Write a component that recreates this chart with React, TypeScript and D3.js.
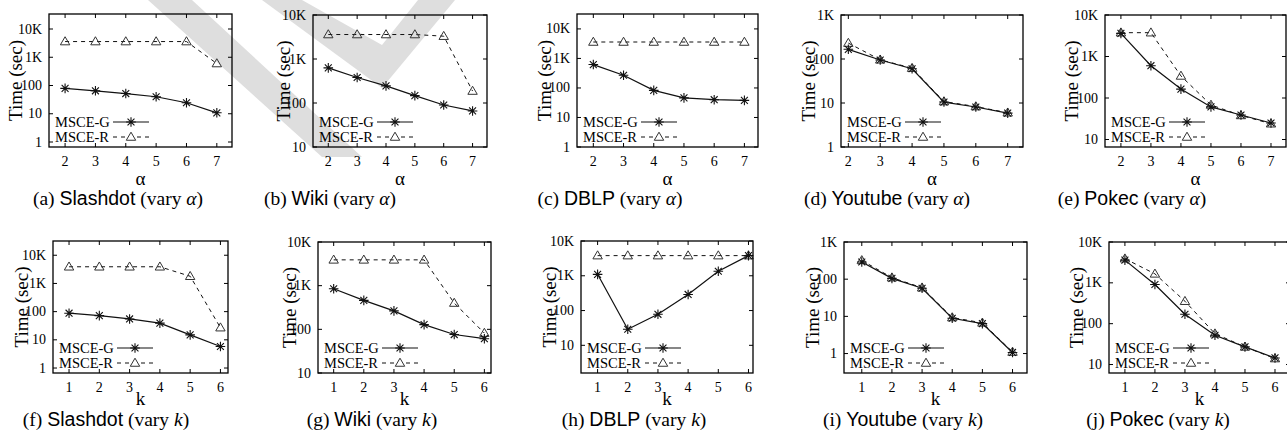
import React from "react";
import * as d3 from "d3";

// x values
const alphaValues = [2, 3, 4, 5, 6, 7];
const kValues = [1, 2, 3, 4, 5, 6];
const seriesNames = ["MSCE-G", "MSCE-R"];
const yTickValues = [1, 10, 100, 1000, 10000];
const yTickLabels = ["1", "10", "100", "1K", "10K"];

// running time (sec), vary alpha
const slashdotAlphaG = [79, 65, 52, 40, 24.5, 10.8];
const slashdotAlphaR = [3600, 3600, 3600, 3600, 3600, 600];
const wikiAlphaG = [630, 380, 245, 147, 90, 66];
const wikiAlphaR = [3600, 3600, 3600, 3600, 3300, 187];
const dblpAlphaG = [620, 270, 83, 46, 40, 38];
const dblpAlphaR = [3600, 3600, 3600, 3600, 3600, 3600];
const youtubeAlphaG = [166, 95, 60, 10.5, 8.1, 5.9];
const youtubeAlphaR = [230, 96, 62, 10.8, 8.3, 6.0];
const pokecAlphaG = [3600, 600, 164, 61, 39, 25];
const pokecAlphaR = [3750, 3750, 340, 68, 38, 24];

// running time (sec), vary k
const slashdotKG = [88, 72, 55, 39, 15, 5.8];
const slashdotKR = [3900, 3900, 3900, 3900, 1800, 27];
const wikiKG = [850, 460, 265, 128, 76, 61];
const wikiKR = [3900, 3900, 3900, 3900, 400, 82];
const dblpKG = [1100, 29, 78, 290, 1350, 3800];
const dblpKR = [3800, 3800, 3800, 3800, 3800, 3800];
const youtubeKG = [290, 105, 57, 8.9, 6.4, 1.07];
const youtubeKR = [320, 110, 59, 9.3, 6.7, 1.1];
const pokecKG = [3600, 910, 170, 52, 27, 14.5];
const pokecKR = [3900, 1660, 355, 57, 27, 14];

const SERIF = "'Liberation Serif', 'DejaVu Serif', serif";
const SANS = "'Liberation Sans', Arial, sans-serif";

// layout of every sub-plot: frame [left, top, right, bottom], axis domains, caption centre
const panels = [
  { id: "a", name: "Slashdot", vary: "α", xs: alphaValues, g: slashdotAlphaG, r: slashdotAlphaR, frame: [49, 14, 232, 147], xDom: [1.47, 7.5], yDom: [0.666, 34000], capX: 118, labDx: 34 },
  { id: "b", name: "Wiki", vary: "α", xs: alphaValues, g: wikiAlphaG, r: wikiAlphaR, frame: [313, 15, 487, 147], xDom: [1.47, 7.5], yDom: [10, 10000], capX: 330, labDx: 30 },
  { id: "c", name: "DBLP", vary: "α", xs: alphaValues, g: dblpAlphaG, r: dblpAlphaR, frame: [577, 14, 758, 147], xDom: [1.46, 7.45], yDom: [1, 32000], capX: 610, labDx: 33 },
  { id: "d", name: "Youtube", vary: "α", xs: alphaValues, g: youtubeAlphaG, r: youtubeAlphaR, frame: [841, 15, 1023, 147], xDom: [1.77, 7.48], yDom: [1, 1000], capX: 887, labDx: 33 },
  { id: "e", name: "Pokec", vary: "α", xs: alphaValues, g: pokecAlphaG, r: pokecAlphaR, frame: [1105, 15, 1286, 147], xDom: [1.47, 7.5], yDom: [6.6, 10000], capX: 1132, labDx: 34 },
  { id: "f", name: "Slashdot", vary: "k", xs: kValues, g: slashdotKG, r: slashdotKR, frame: [53, 241, 228, 373], xDom: [0.47, 6.25], yDom: [0.666, 32000], capX: 106, labDx: 32 },
  { id: "g", name: "Wiki", vary: "k", xs: kValues, g: wikiKG, r: wikiKR, frame: [318, 242, 491, 373], xDom: [0.48, 6.22], yDom: [10, 10000], capX: 372, labDx: 29 },
  { id: "h", name: "DBLP", vary: "k", xs: kValues, g: dblpKG, r: dblpKR, frame: [581, 241, 753, 373], xDom: [0.45, 6.15], yDom: [1.6, 10000], capX: 634, labDx: 32 },
  { id: "i", name: "Youtube", vary: "k", xs: kValues, g: youtubeKG, r: youtubeKR, frame: [844, 242, 1027, 373], xDom: [0.41, 6.48], yDom: [0.3, 1000], capX: 903, labDx: 32 },
  { id: "j", name: "Pokec", vary: "k", xs: kValues, g: pokecKG, r: pokecKR, frame: [1109, 242, 1290, 373], xDom: [0.47, 6.5], yDom: [6.2, 10000], capX: 1158, labDx: 33 },
];

// light grey watermark stripes in the background of the scan
const watermark = [
  [[148, 0], [192, 0], [362, 157], [322, 157]],
  [[262, 0], [302, 0], [382, 45], [418, 0], [455, 0], [382, 88]],
];

function starPath(cx: number, cy: number, r: number) {
  const d = r * 0.72;
  return `M${cx - r},${cy}h${2 * r}M${cx},${cy - r}v${2 * r}M${cx - d},${cy - d}l${2 * d},${2 * d}M${cx - d},${cy + d}l${2 * d},${-2 * d}`;
}

function triPath(cx: number, cy: number, r: number) {
  return `M${cx},${cy - r}L${cx + r * 0.98},${cy + r * 0.68}L${cx - r * 0.98},${cy + r * 0.68}Z`;
}

function Panel({ p }: { p: any }) {
  const [L, T, R, B] = p.frame;
  const top = p.vary === "α";
  const x = d3.scaleLinear().domain(p.xDom).range([L, R]);
  const y = d3.scaleLog().domain(p.yDom).range([B, T]);
  const line = d3.line<number>().x((_, i) => x(p.xs[i])).y((d) => y(d));
  const ticks = yTickValues
    .map((v, i) => ({ v, label: yTickLabels[i] }))
    .filter((t) => t.v >= p.yDom[0] * 0.999 && t.v <= p.yDom[1] * 1.001);
  const capY = top ? 205 : 426;
  const cy = (T + B) / 2;
  return (
    <g>
      {/* series */}
      <path d={line(p.r) || ""} fill="none" stroke="#111" strokeWidth={1} strokeDasharray="4,4" />
      <path d={line(p.g) || ""} fill="none" stroke="#111" strokeWidth={1.2} />
      {p.r.map((v: number, i: number) => (
        <path key={"r" + i} d={triPath(x(p.xs[i]), y(v), 4.8)} fill="none" stroke="#333" strokeWidth={1} />
      ))}
      {p.g.map((v: number, i: number) => (
        <path key={"g" + i} d={starPath(x(p.xs[i]), y(v), 4.8)} stroke="#111" strokeWidth={1.1} />
      ))}
      {/* frame and ticks */}
      <rect x={L} y={T} width={R - L} height={B - T} fill="none" stroke="#000" strokeWidth={1.3} />
      {ticks.map((t) => (
        <g key={t.v}>
          <line x1={L} x2={L + 4} y1={y(t.v)} y2={y(t.v)} stroke="#000" />
          <line x1={R} x2={R - 4} y1={y(t.v)} y2={y(t.v)} stroke="#000" />
          <text x={L - 7} y={y(t.v)} textAnchor="end" dominantBaseline="central" fontFamily={SERIF} fontSize={14}>
            {t.label}
          </text>
        </g>
      ))}
      {p.xs.map((v: number) => (
        <g key={"x" + v}>
          <line x1={x(v)} x2={x(v)} y1={B} y2={B - 4} stroke="#000" />
          <line x1={x(v)} x2={x(v)} y1={T} y2={T + 4} stroke="#000" />
          <text x={x(v)} y={B + 19} textAnchor="middle" fontFamily={SERIF} fontSize={14}>
            {v}
          </text>
        </g>
      ))}
      {/* axis titles */}
      <text x={(L + R) / 2} y={B + (top ? 38 : 32)} textAnchor="middle" fontFamily={SERIF} fontSize={19}>
        {p.vary}
      </text>
      <text transform={`translate(${L - p.labDx},${cy}) rotate(-90)`} textAnchor="middle" dominantBaseline="central" fontFamily={SERIF} fontSize={19}>
        Time (sec)
      </text>
      {/* legend */}
      {seriesNames.map((s, i) => {
        const ly = B - 25 + i * 15;
        return (
          <g key={s}>
            <text x={L + 6} y={ly} dominantBaseline="central" fontFamily={SERIF} fontSize={14.5}>
              {s}
            </text>
            <line x1={L + 64} x2={L + 100} y1={ly} y2={ly} stroke="#111" strokeWidth={i === 0 ? 1.2 : 1} strokeDasharray={i === 0 ? undefined : "4,4"} />
            {i === 0 ? (
              <path d={starPath(L + 82, ly, 4.8)} stroke="#111" strokeWidth={1.1} />
            ) : (
              <path d={triPath(L + 82, ly, 4.8)} fill="#fff" stroke="#333" strokeWidth={1} />
            )}
          </g>
        );
      })}
      {/* caption */}
      <text x={p.capX} y={capY} textAnchor="middle" fontSize={19.5} fill="#000">
        <tspan fontFamily={SERIF}>({p.id}) </tspan>
        <tspan fontFamily={SANS}>{p.name}</tspan>
        <tspan fontFamily={SERIF}> (vary </tspan>
        <tspan fontFamily={SERIF} fontStyle="italic">{p.vary}</tspan>
        <tspan fontFamily={SERIF}>)</tspan>
      </text>
    </g>
  );
}

export default function App() {
  return (
    <svg width={1287} height={439} style={{ position: "absolute", left: 0, top: 0, background: "#fff" }}>
      {watermark.map((poly, i) => (
        <polygon key={i} points={poly.map((pt) => pt.join(",")).join(" ")} fill="#dedede" />
      ))}
      {panels.map((p) => (
        <Panel key={p.id} p={p} />
      ))}
    </svg>
  );
}
